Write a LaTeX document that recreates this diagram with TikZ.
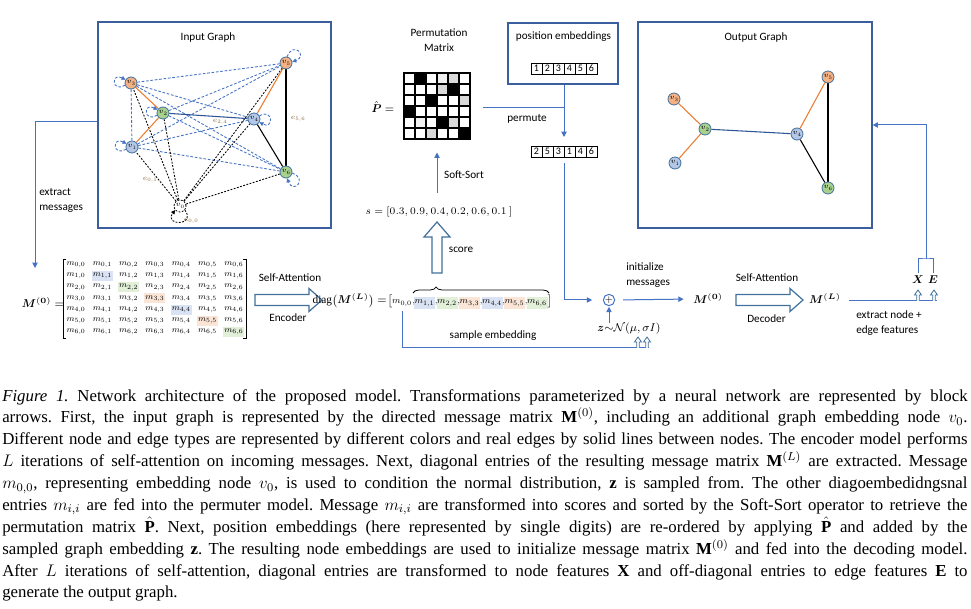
\documentclass[tikz,border=0pt]{standalone}
\usepackage{fix-cm}
\usepackage{graphicx}
\usepackage{amsmath}
\usepackage{fontspec}
\setmainfont{Liberation Serif}
\newfontfamily\diagfont{Carlito}
\usetikzlibrary{arrows.meta,decorations.pathreplacing,calc,fit,backgrounds}
\definecolor{nblue}{HTML}{B4C7E7}
\definecolor{ngreen}{HTML}{A9D18E}
\definecolor{norange}{HTML}{F4B183}
\definecolor{nborder}{HTML}{41719C}
\definecolor{eorange}{HTML}{ED7D31}
\definecolor{edblue}{HTML}{2F5597}
\definecolor{ldblue}{HTML}{4472C4}
\definecolor{boxcol}{HTML}{3B5E9E}
\definecolor{hlb}{HTML}{DAE3F3}
\definecolor{hlg}{HTML}{E2F0D9}
\definecolor{hlo}{HTML}{FBE5D6}
\definecolor{elab}{HTML}{8C6A3C}
\definecolor{ga}{HTML}{F0F0F0}
\definecolor{gb}{HTML}{D9D9D9}
\newcommand\capline[1]{\hbox to \linewidth{#1}}
\begin{document}
\begin{tikzpicture}[x=0.75pt,y=-0.75pt,
  lbl/.style={font=\diagfont\fontsize{8.4}{11.2}\selectfont, inner sep=0pt},
  gnode/.style={circle, draw=nborder, line width=0.6pt, minimum size=9pt, inner sep=0pt, font=\fontsize{5.5}{6}\selectfont},
  gbox/.style={draw=boxcol, line width=0.9pt, inner sep=0pt},
  conn/.style={draw=ldblue, line width=0.75pt, -{Triangle[length=4pt,width=4pt]}},
  plainln/.style={draw=ldblue, line width=0.75pt},
  bdash/.style={draw=ldblue, line width=0.65pt, dash pattern=on 2pt off 1.3pt},
  kdash/.style={draw=black, line width=0.65pt, dash pattern=on 1.4pt off 1.1pt},
  loopb/.style={bdash, -{Triangle[length=3pt,width=3pt]}},
  loopk/.style={kdash, -{Triangle[length=3pt,width=3pt]}},
  oedge/.style={draw=eorange, line width=0.8pt},
  dedge/.style={draw=edblue, line width=0.8pt},
  kedge/.style={draw=black, line width=0.8pt},
  elbl/.style={text=elab, font=\fontsize{5.5}{6}\selectfont, inner sep=0pt},
  pcell/.style={draw=black, line width=0.9pt, minimum size=8.25pt, inner sep=0pt},
  seqcell/.style={draw=black, line width=0.5pt, minimum size=8.25pt, inner sep=0pt, font=\diagfont\fontsize{7.5}{8}\selectfont},
  blk/.style={draw=nborder, line width=0.9pt, fill=white},
  mtx/.style={font=\fontsize{8}{9}\selectfont, inner sep=0pt},
  dg/.style={font=\fontsize{8}{9}\selectfont, inner sep=0pt, anchor=base},
  mlab/.style={font=\fontsize{8.5}{9}\selectfont, inner sep=0pt},
  uparrow/.pic={\draw[draw=nborder, line width=0.6pt, fill=white] (-1.3,0) -- (-1.3,-6) -- (-3.5,-6) -- (0,-11) -- (3.5,-6) -- (1.3,-6) -- (1.3,0);}
  ]
\useasboundingbox (0,0) rectangle (971,609);

% ---------- Input graph ----------
\node[gnode,fill=norange] (i3) at (131,83) {$v_3$};
\node[gnode,fill=ngreen] (i2) at (163,113) {$v_2$};
\node[gnode,fill=nblue] (i1) at (132,147) {$v_1$};
\node[gnode,fill=nblue] (i4) at (254,119) {$v_4$};
\node[gnode,fill=norange] (i5) at (286,63) {$v_5$};
\node[gnode,fill=ngreen] (i6) at (286,172) {$v_6$};
\node[gnode,fill=white,draw=black,dash pattern=on 1.4pt off 1.1pt] (i0) at (180,206) {$v_0$};
\node[gbox, fit={(98,22) (331,228)}] (inbox) {};
\node[lbl] (intitle) at (208,38) {Input Graph};
\node[elbl] (e24) at (220,122) {$e_{2,4}$};
\node[elbl] (e56) at (298,119) {$e_{5,6}$};
\node[elbl] (e01) at (150,180) {$e_{0,1}$};
\node[elbl] (e00) at (191,221) {$e_{0,0}$};
\draw[loopb] (i3.200) .. controls +(-14,8) and +(-14,-8) .. (i3.150);
\draw[loopb] (i1.200) .. controls +(-14,8) and +(-14,-8) .. (i1.150);
\draw[loopb] (i2.200) .. controls +(-14,8) and +(-14,-8) .. (i2.150);
\draw[loopb] (i4.30) .. controls +(14,-8) and +(14,8) .. (i4.-30);
\draw[loopb] (i5.80) .. controls +(6,-16) and +(16,-6) .. (i5.10);
\draw[loopb] (i6.-10) .. controls +(16,6) and +(6,16) .. (i6.-80);
\draw[loopk] (i0.-40) .. controls +(12,16) and +(-12,16) .. (i0.-140);

% ---------- Output graph ----------
\node[gnode,fill=norange] (o3) at (674,99) {$v_3$};
\node[gnode,fill=ngreen] (o2) at (705,129) {$v_2$};
\node[gnode,fill=nblue] (o1) at (675,163) {$v_1$};
\node[gnode,fill=nblue] (o4) at (797,134) {$v_4$};
\node[gnode,fill=norange] (o5) at (828,77) {$v_5$};
\node[gnode,fill=ngreen] (o6) at (828,188) {$v_6$};
\node[gbox, fit={(638,22) (872,228)}] (outbox) {};
\node[lbl] (outtitle) at (756,38) {Output Graph};

% ---------- Permutation matrix ----------
\node[lbl, align=center] (permtitle) at (439,40) {Permutation\\Matrix};
\foreach \row [count=\i from 0] in {{white,black,white,ga,gb,white},{white,white,white,gb,black,white},{white,white,black,white,white,gb},{black,white,white,white,white,white},{white,ga,white,black,gb,white},{white,white,gb,white,white,black}}{
  \foreach \c [count=\j from 0] in \row {
    \node[pcell, fill=\c] (p\i\j) at ({409.5+11*\j},{78.5+11*\i}) {};
  }
}
\node[fit=(p00)(p55), inner sep=0pt] (pgrid) {};
\node[mlab] (phat) at (383,107) {$\hat{\boldsymbol{P}}=$};
\node[lbl] (permute) at (527,119) {permute};
\node[lbl] (softsort) at (464,175) {Soft-Sort};
\node[mlab, font=\fontsize{7.6}{9}\selectfont] (svec) at (439,212) {$s=[0.3, 0.9, 0.4, 0.2, 0.6, 0.1\ ]$};

% ---------- Position embeddings ----------
\node[gbox, fit={(508,23) (618,84)}] (posbox) {};
\node[lbl] (postitle) at (563.5,37) {position embeddings};
\foreach \d in {1,...,6} \node[seqcell] (a\d) at ({525.5+11*\d},68.5) {\d};
\foreach \d/\v in {1/2,2/5,3/3,4/1,5/4,6/6} \node[seqcell] (q\d) at ({525.5+11*\d},151.5) {\v};
\coordinate (pjoin) at (564,108);

% ---------- Message matrix M(0) ----------
\foreach \k/\c in {1/hlb,2/hlg,3/hlo,4/hlb,5/hlo,6/hlg}
  \fill[\c] ({76+26.3*\k-10.5},{265+11.15*\k-5}) rectangle ++(21,10);
\foreach \i in {0,...,6}{\foreach \j in {0,...,6}{
  \node[mtx] (m\i\j) at ({76+26.3*\j},{265+11.15*\i}) {\scalebox{0.8}{$m_{\i,\j}$}};}}
\draw[line width=0.5pt] (66,259) -- (63,259) -- (63,338) -- (66,338);
\draw[line width=0.5pt] (243,259) -- (246,259) -- (246,338) -- (243,338);
\node[mlab] (M0lab) at (43,303) {$\boldsymbol{M}^{(\boldsymbol{0})}=$};
\node[lbl, align=left, anchor=west] (xmlab) at (39,200) {extract\\messages};

% ---------- Encoder ----------
\draw[blk] (255,294.5) -- (309,294.5) -- (309,288.5) -- (322,300) -- (309,311.5) -- (309,305.5) -- (255,305.5) -- cycle;
\node[lbl] (sa1) at (290,278) {Self-Attention};
\node[lbl] (enc) at (288,318) {Encoder};

% ---------- diag ----------
\node[mlab, anchor=base east] (dl) at (387,304) {$\mathrm{diag}\bigl(\boldsymbol{M}^{(\boldsymbol{L})}\bigr)=$};
\node[mlab, anchor=base] (dlb) at (390,304) {$\bigl[$};
\foreach \k/\c in {1/hlb,2/hlg,3/hlo,4/hlb,5/hlo,6/hlg}
  \fill[\c] ({402+22.5*\k-10.5},297) rectangle ++(21,12);
\foreach \k in {0,...,6} \node[dg] (d\k) at ({402+22.5*\k},304) {\scalebox{0.84}{$m_{\k,\k}$}};
\foreach \k in {0,...,5} \node[dg] (c\k) at ({413.7+22.5*\k},304) {\scalebox{0.84}{$,$}};
\node[mlab, anchor=base] (drb) at (550,304) {$\bigr]$};
\draw[decorate, decoration={brace, amplitude=4.5pt, aspect=0.17}, line width=0.6pt] (413,293) -- (549,293);
\draw[blk] (432,273) -- (432,237) -- (424,237) -- (437,222) -- (450,237) -- (442,237) -- (442,273) -- cycle;
\node[lbl] (score) at (461,250) {score};
\node[lbl] (samp) at (493,336) {sample embedding};
\coordinate (sampend) at (649,348);

% ---------- z, plus, decoder ----------
\node[circle, draw=ldblue, line width=0.75pt, minimum size=8.5pt, inner sep=0pt, font=\fontsize{7}{7}\selectfont] (plus) at (609,300) {$+$};
\node[mlab] (zlab) at (629,329) {$\boldsymbol{z}{\sim}\mathcal{N}(\mu,\sigma I)$};
\node[lbl, align=left, anchor=west] (init) at (626,275.5) {initialize\\messages};
\node[mlab] (mz) at (708,299) {$\boldsymbol{M}^{(\boldsymbol{0})}$};
\draw[blk] (736,294.5) -- (790,294.5) -- (790,288.5) -- (803,300) -- (790,311.5) -- (790,305.5) -- (736,305.5) -- cycle;
\node[lbl] (sa2) at (767,278) {Self-Attention};
\node[lbl] (dec) at (766.5,319) {Decoder};
\node[mlab] (ML) at (825,299) {$\boldsymbol{M}^{(\boldsymbol{L})}$};
\node[mlab] (Xl) at (918,280) {$\boldsymbol{X}$};
\node[mlab] (El) at (933,280) {$\boldsymbol{E}$};
\node[lbl, align=left, anchor=west] (extr) at (856,323.5) {extract node +\\edge features};
\coordinate (xeend) at (937,301);
\coordinate (brtop) at (926,259);
\coordinate (exy) at (0,122);
\coordinate (xmend) at (35,268);

% ---------- connectors ----------
\draw[conn] (inbox.west |- exy) -| (xmend);
\draw[plainln, shorten <=9pt] (pgrid.east |- pjoin) -- (pjoin);
\draw[conn, shorten >=6.5pt] (posbox.south -| pjoin) -- (pjoin |- q1.north);
\draw[conn, shorten <=10.5pt, shorten >=9.5pt] (pgrid.south |- svec.north) -- (pgrid.south);
\draw[conn, shorten <=4.5pt, shorten >=8pt] (pjoin |- q1.south) |- (plus.west);
\draw[conn, shorten >=0.5pt] (zlab.north -| plus) -- (plus.south);
\draw[conn, shorten <=6pt, shorten >=7pt] (plus.east) -- (mz.west);
\draw[plainln] ([yshift=-3pt]d0.south) |- (sampend);
\pic at (638,348) {uparrow};
\pic at (647,348) {uparrow};
\draw[plainln, shorten <=6pt] (ML.east |- xeend) -- (xeend);
\pic at (918,301) {uparrow};
\pic at (934,301) {uparrow};
\draw[plainln] ([yshift=2pt]Xl.north) |- (brtop) -| ([yshift=2pt]El.north);
\draw[conn] (brtop) |- (outbox.east);

% ---------- caption ----------
\node[anchor=north west, inner sep=0pt] (cap) at (2,389) {\begin{minipage}{724pt}\fontsize{12.6}{16.4}\selectfont\frenchspacing\setlength{\parindent}{0pt}%
\capline{\textit{Figure 1.} Network architecture of the proposed model. Transformations parameterized by a neural network are represented by block}
\capline{arrows. First, the input graph is represented by the directed message matrix $\mathbf{M}^{(0)}$, including an additional graph embedding node $v_0$.}
\capline{Different node and edge types are represented by different colors and real edges by solid lines between nodes. The encoder model performs}
\capline{$L$ iterations of self-attention on incoming messages. Next, diagonal entries of the resulting message matrix $\mathbf{M}^{(L)}$ are extracted. Message}
\capline{$m_{0,0}$, representing embedding node $v_0$, is used to condition the normal distribution, $\mathbf{z}$ is sampled from. The other diagoembedidngsnal}
\capline{entries $m_{i,i}$ are fed into the permuter model. Message $m_{i,i}$ are transformed into scores and sorted by the Soft-Sort operator to retrieve the}
\capline{permutation matrix $\smash{\hat{\mathbf{P}}}$. Next, position embeddings (here represented by single digits) are re-ordered by applying $\smash{\hat{\mathbf{P}}}$ and added by the}
\capline{sampled graph embedding $\mathbf{z}$. The resulting node embeddings are used to initialize message matrix $\mathbf{M}^{(0)}$ and fed into the decoding model.}
\capline{After $L$ iterations of self-attention, diagonal entries are transformed to node features $\mathbf{X}$ and off-diagonal entries to edge features $\mathbf{E}$ to}
\hbox{generate the output graph.}
\end{minipage}};

% ---------- graph edges (behind nodes) ----------
\begin{scope}[on background layer]
\fill[white] (0,0) rectangle (971,609);
\foreach \a/\b in {i3/i5,i3/i4,i3/i6,i3/i1,i2/i5,i2/i6,i1/i5,i1/i4,i1/i6} \draw[bdash] (\a) -- (\b);
\foreach \b in {i1,i2,i3,i4,i5,i6} \draw[kdash] (i0) -- (\b);
\draw[oedge] (i3) -- (i2);
\draw[oedge] (i2) -- (i1);
\draw[oedge] (i4) -- (i5);
\draw[dedge] (i2) -- (i4);
\draw[kedge] (i4) -- (i6);
\draw[kedge] (i5) -- (i6);
\draw[oedge] (o3) -- (o2);
\draw[oedge] (o2) -- (o1);
\draw[oedge] (o4) -- (o5);
\draw[dedge] (o2) -- (o4);
\draw[kedge] (o4) -- (o6);
\draw[kedge] (o5) -- (o6);
\end{scope}
\end{tikzpicture}
\end{document}
